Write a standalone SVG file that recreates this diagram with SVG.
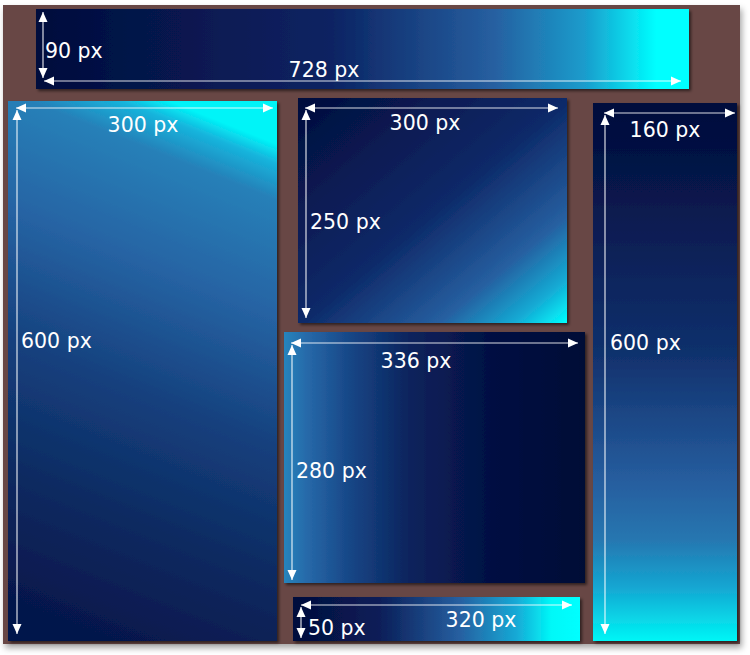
<svg xmlns="http://www.w3.org/2000/svg" width="750" height="655" viewBox="0 0 750 655">
<style>
.lbl{font-family:"DejaVu Sans","Liberation Sans",sans-serif;font-size:20.5px;fill:#ffffff}
.mid{text-anchor:middle}
.dim{stroke:#ffffff;stroke-opacity:0.85;stroke-width:1.2;fill:none;marker-start:url(#ah);marker-end:url(#ah)}
</style>
<defs>
<marker id="ah" viewBox="0 0 10 10" refX="10" refY="5" markerWidth="10" markerHeight="10" markerUnits="userSpaceOnUse" orient="auto-start-reverse">
<path d="M0,0.5 L10,5 L0,9.5 z" fill="#ffffff"/>
</marker>
<filter id="sh" x="-10%" y="-10%" width="130%" height="130%">
<feDropShadow dx="2" dy="2" stdDeviation="1.5" flood-color="#000000" flood-opacity="0.55"/>
</filter>
<filter id="shbg" x="-5%" y="-5%" width="110%" height="110%">
<feDropShadow dx="2" dy="4" stdDeviation="3" flood-color="#000000" flood-opacity="0.35"/>
</filter>
<linearGradient id="gBanner" x1="0" y1="0" x2="1" y2="0">
<stop offset="0" stop-color="#030c3c"/>
<stop offset="0.45" stop-color="#0b2362"/>
<stop offset="0.7" stop-color="#265fa0"/>
<stop offset="0.84" stop-color="#1a9ccc"/>
<stop offset="0.95" stop-color="#00ffff"/>
<stop offset="1" stop-color="#00ffff"/>
</linearGradient>
<linearGradient id="gBottom" x1="0" y1="0" x2="1" y2="0">
<stop offset="0" stop-color="#030c3c"/>
<stop offset="0.3" stop-color="#0a1e58"/>
<stop offset="0.58" stop-color="#265fa0"/>
<stop offset="0.78" stop-color="#16aad6"/>
<stop offset="0.9" stop-color="#00f8f8"/>
<stop offset="1" stop-color="#00ffff"/>
</linearGradient>
<linearGradient id="gMid" x1="0" y1="0" x2="1" y2="0">
<stop offset="0" stop-color="#2884bc"/>
<stop offset="0.08" stop-color="#2668a8"/>
<stop offset="0.22" stop-color="#174686"/>
<stop offset="0.42" stop-color="#0a235c"/>
<stop offset="0.7" stop-color="#040f42"/>
<stop offset="1" stop-color="#020a36"/>
</linearGradient>
<linearGradient id="gRight" x1="0" y1="0" x2="0" y2="1">
<stop offset="0" stop-color="#030c3c"/>
<stop offset="0.1" stop-color="#051244"/>
<stop offset="0.46" stop-color="#10306c"/>
<stop offset="0.7" stop-color="#265d9e"/>
<stop offset="0.81" stop-color="#2676b0"/>
<stop offset="0.9" stop-color="#14a6d2"/>
<stop offset="1" stop-color="#00f6f6"/>
</linearGradient>
<linearGradient id="gLeft" x1="0.6" y1="0" x2="0.4" y2="1">
<stop offset="0" stop-color="#00f4f8"/>
<stop offset="0.035" stop-color="#16b4dc"/>
<stop offset="0.1" stop-color="#2680b8"/>
<stop offset="0.3" stop-color="#2664a4"/>
<stop offset="0.55" stop-color="#153f7c"/>
<stop offset="0.8" stop-color="#0b285e"/>
<stop offset="1" stop-color="#06174c"/>
</linearGradient>
<linearGradient id="gTopMid" x1="0" y1="0" x2="1" y2="1">
<stop offset="0" stop-color="#030c3c"/>
<stop offset="0.5" stop-color="#0d2968"/>
<stop offset="0.76" stop-color="#265fa0"/>
<stop offset="0.9" stop-color="#14aad4"/>
<stop offset="1" stop-color="#00ffff"/>
</linearGradient>
</defs>

<rect id="background" x="3" y="5" width="737" height="639" fill="#684644" filter="url(#shbg)"/>

<g id="banner">
<rect x="36" y="9" width="653" height="80" fill="url(#gBanner)" filter="url(#sh)"/>
<text class="lbl" x="45" y="58">90 px</text>
<text class="lbl mid" x="324" y="77">728 px</text>
</g>

<g id="left-tall">
<rect x="8" y="101" width="269" height="540" fill="url(#gLeft)" filter="url(#sh)"/>
<text class="lbl mid" x="143" y="132">300 px</text>
<text class="lbl" x="21" y="348">600 px</text>
</g>

<g id="mid-top">
<rect x="298" y="98" width="269" height="225" fill="url(#gTopMid)" filter="url(#sh)"/>
<text class="lbl mid" x="425" y="130">300 px</text>
<text class="lbl" x="310" y="229">250 px</text>
</g>

<g id="mid-box">
<rect x="284" y="332" width="301" height="251" fill="url(#gMid)" filter="url(#sh)"/>
<text class="lbl mid" x="416" y="368">336 px</text>
<text class="lbl" x="296" y="478">280 px</text>
</g>

<g id="bottom-bar">
<rect x="293" y="597" width="287" height="44" fill="url(#gBottom)" filter="url(#sh)"/>
<text class="lbl mid" x="481" y="627">320 px</text>
<text class="lbl" x="308" y="635">50 px</text>
</g>

<g id="right-tall">
<rect x="593" y="103" width="144" height="538" fill="url(#gRight)" filter="url(#sh)"/>
<text class="lbl mid" x="665" y="137">160 px</text>
<text class="lbl" x="610" y="350">600 px</text>
</g>

<g id="connectors">
<line class="dim" x1="43" y1="12" x2="43" y2="78"/>
<line class="dim" x1="44" y1="81" x2="681" y2="81"/>
<line class="dim" x1="16" y1="108" x2="273" y2="108"/>
<line class="dim" x1="17" y1="110" x2="17" y2="634"/>
<line class="dim" x1="305" y1="108" x2="558" y2="108"/>
<line class="dim" x1="306" y1="110" x2="306" y2="318"/>
<line class="dim" x1="291" y1="343" x2="578" y2="343"/>
<line class="dim" x1="292" y1="345" x2="292" y2="580"/>
<line class="dim" x1="301" y1="605" x2="572" y2="605"/>
<line class="dim" x1="301" y1="607" x2="301" y2="638"/>
<line class="dim" x1="604" y1="113" x2="735" y2="113"/>
<line class="dim" x1="605" y1="115" x2="605" y2="634"/>
</g>
</svg>
